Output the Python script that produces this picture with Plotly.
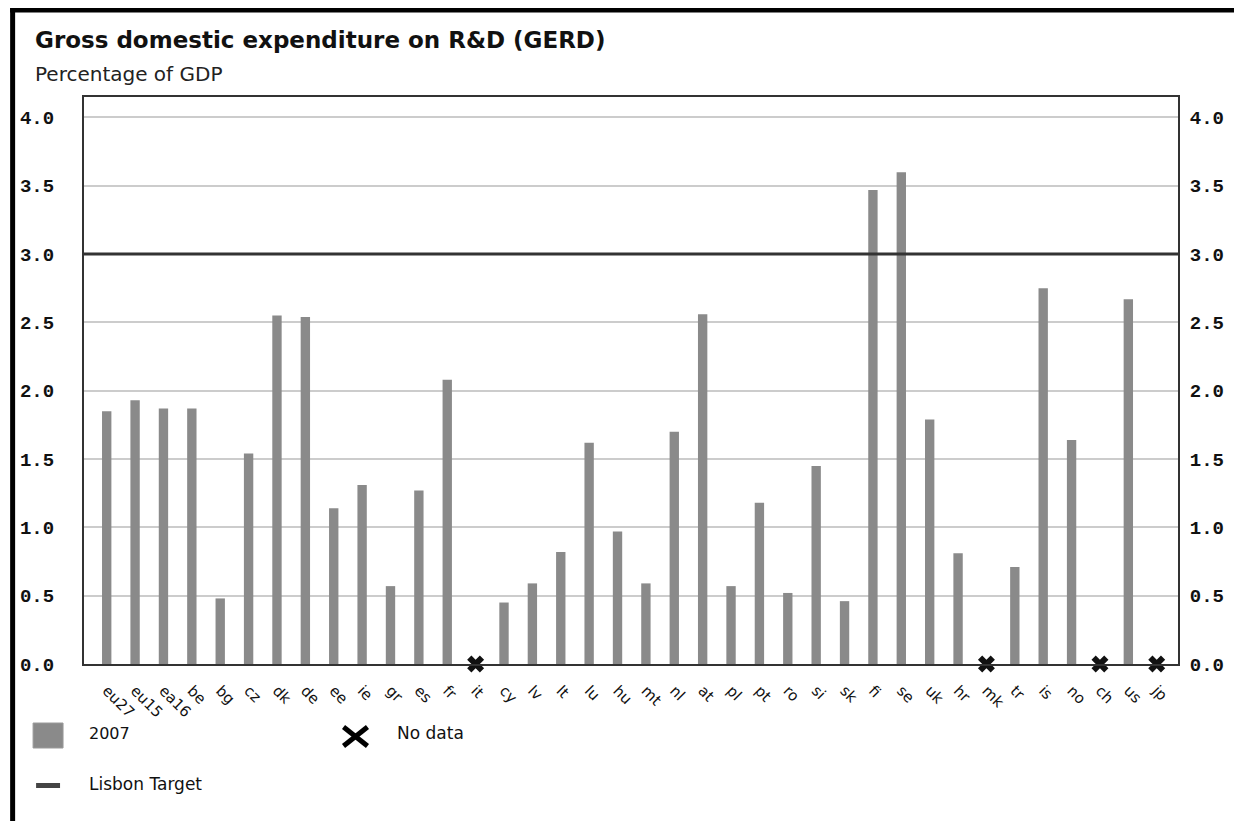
import plotly.graph_objects as go

# ---------------- data ----------------
countries = ["eu27", "eu15", "ea16", "be", "bg", "cz", "dk", "de", "ee", "ie",
             "gr", "es", "fr", "it", "cy", "lv", "lt", "lu", "hu", "mt",
             "nl", "at", "pl", "pt", "ro", "si", "sk", "fi", "se", "uk",
             "hr", "mk", "tr", "is", "no", "ch", "us", "jp"]
gerd_2007 = [1.85, 1.93, 1.87, 1.87, 0.48, 1.54, 2.55, 2.54, 1.14, 1.31,
             0.57, 1.27, 2.08, None, 0.45, 0.59, 0.82, 1.62, 0.97, 0.59,
             1.70, 2.56, 0.57, 1.18, 0.52, 1.45, 0.46, 3.47, 3.60, 1.79,
             0.81, None, 0.71, 2.75, 1.64, None, 2.67, None]
no_data = ["it", "mk", "ch", "jp"]
no_data_y = [0, 0, 0, 0]
lisbon_target = 3.0
y_ticks = [0.0, 0.5, 1.0, 1.5, 2.0, 2.5, 3.0, 3.5, 4.0]

title = "Gross domestic expenditure on R&D (GERD)"
subtitle = "Percentage of GDP"
series_name = "2007"
no_data_name = "No data"
target_name = "Lisbon Target"

# ---------------- layout geometry (window pixels) ----------------
OFF = 8                      # page body margin of the html page
WIN_W, WIN_H = 1242, 821
W, H = WIN_W - OFF, WIN_H - OFF
L, R, T, B = 82, 1178, 97, 664   # plot area in window pixels
PW, PH = R - L, B - T


def xp(px):
    return (px - L) / PW


def yp(py):
    return (B - py) / PH


bar_col = "#8a8a8a"
dark = "#333333"

fig = go.Figure()
fig.add_trace(go.Bar(x=countries, y=gerd_2007, name=series_name,
                     marker=dict(color=bar_col, line=dict(width=0)),
                     width=0.33, showlegend=False))
fig.add_trace(go.Scatter(x=no_data, y=no_data_y, mode="markers", name=no_data_name,
                         marker=dict(symbol="x", size=15, color="#111111",
                                     line=dict(width=0)),
                         cliponaxis=False, showlegend=False))
# helper trace so the right axis renders
fig.add_trace(go.Scatter(x=[countries[0]], y=[lisbon_target], yaxis="y2",
                         mode="markers", marker=dict(opacity=0),
                         hoverinfo="skip", showlegend=False))

shapes = []
# Lisbon target line across the whole plot
shapes.append(dict(type="line", xref="x domain", yref="y", x0=0, x1=1,
                   y0=lisbon_target, y1=lisbon_target,
                   line=dict(color=dark, width=3), layer="above"))
# outer black frame (left and top)
shapes.append(dict(type="rect", xref="paper", yref="paper",
                   x0=xp(8), x1=xp(13), y0=yp(WIN_H * 2), y1=yp(8),
                   fillcolor="black", line=dict(width=0)))
shapes.append(dict(type="rect", xref="paper", yref="paper",
                   x0=xp(8), x1=xp(WIN_W + 10), y0=yp(12.5), y1=yp(8),
                   fillcolor="black", line=dict(width=0)))
# legend: 2007 square
shapes.append(dict(type="rect", xref="paper", yref="paper",
                   x0=xp(31), x1=xp(61), y0=yp(748), y1=yp(723),
                   fillcolor=bar_col, line=dict(color="#9a9a9a", width=1)))
# legend: No data X
shapes.append(dict(type="line", xref="paper", yref="paper",
                   x0=xp(342), x1=xp(366), y0=yp(727), y1=yp(746),
                   line=dict(color="black", width=5)))
shapes.append(dict(type="line", xref="paper", yref="paper",
                   x0=xp(342), x1=xp(366), y0=yp(746), y1=yp(727),
                   line=dict(color="black", width=5)))
# legend: Lisbon target dash
shapes.append(dict(type="rect", xref="paper", yref="paper",
                   x0=xp(34), x1=xp(58), y0=yp(788), y1=yp(783),
                   fillcolor="#444444", line=dict(width=0)))

ann_font = dict(family="DejaVu Sans", size=16, color="#111111")
annotations = [
    dict(text="<b>" + title + "</b>", xref="paper", yref="paper",
         x=xp(31), y=yp(40), xanchor="left", yanchor="middle", showarrow=False,
         font=dict(family="DejaVu Sans", size=23, color="#111111")),
    dict(text=subtitle, xref="paper", yref="paper",
         x=xp(31), y=yp(74), xanchor="left", yanchor="middle", showarrow=False,
         font=dict(family="DejaVu Sans", size=20, color="#222222")),
    dict(text=series_name, xref="paper", yref="paper",
         x=xp(85), y=yp(733), xanchor="left", yanchor="middle", showarrow=False,
         font=ann_font),
    dict(text=no_data_name, xref="paper", yref="paper",
         x=xp(394), y=yp(733), xanchor="left", yanchor="middle", showarrow=False,
         font=dict(family="DejaVu Sans", size=17, color="#111111")),
    dict(text=target_name, xref="paper", yref="paper",
         x=xp(85), y=yp(784), xanchor="left", yanchor="middle", showarrow=False,
         font=dict(family="DejaVu Sans", size=17, color="#111111")),
]

tick_font = dict(family="Liberation Mono", size=19, color="#111111", weight="bold")
yaxis_common = dict(range=[0, 4.15], tickvals=y_ticks, tickformat=".1f",
                    showgrid=True, gridcolor="#cccccc", gridwidth=1.5,
                    zeroline=False, showline=True, linecolor=dark, linewidth=2,
                    ticks="", tickfont=tick_font)

fig.update_layout(
    width=W, height=H,
    margin=dict(l=L - OFF, r=WIN_W - R, t=T - OFF, b=WIN_H - B, pad=0),
    paper_bgcolor="white", plot_bgcolor="white",
    showlegend=False,
    xaxis=dict(type="category", categoryorder="array", categoryarray=countries,
               range=[-0.8, 37.75], showgrid=False, zeroline=False,
               showline=True, linecolor=dark, linewidth=2, mirror=True,
               ticks="", tickangle=45, ticklabelstandoff=10,
               tickfont=dict(family="DejaVu Sans", size=15, color="#111111")),
    yaxis=dict(side="left", ticklabelstandoff=24, mirror=True,
               **yaxis_common),
    yaxis2=dict(side="right", overlaying="y", ticklabelstandoff=6,
                **yaxis_common),
    shapes=shapes,
    annotations=annotations,
    font=dict(family="DejaVu Sans", color="#111111"),
)

fig.write_html("out.html")
